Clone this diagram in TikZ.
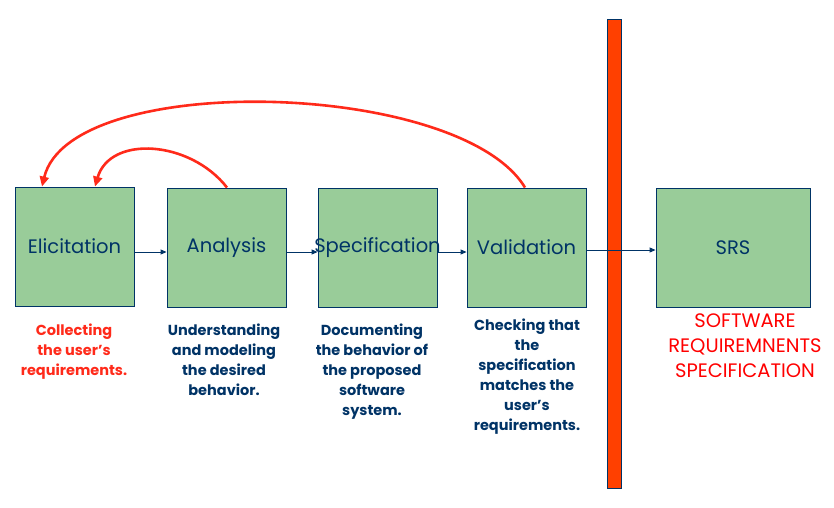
\documentclass[tikz,border=0pt]{standalone}
\usepackage{fontspec}
\setmainfont{Poppins}
\usetikzlibrary{arrows.meta}
\definecolor{navy}{HTML}{003366}
\definecolor{boxgreen}{HTML}{99CC99}
\definecolor{loopred}{HTML}{FF2A1A}
\definecolor{barred}{HTML}{FF4000}
\newcommand{\phase}[3]{node[stage,minimum width=#3] (#1) {\makebox[0pt]{#2}}}
\newcommand{\desc}[2]{node[note,anchor=north,#1]{#2}}

\begin{document}
\begin{tikzpicture}[x=1pt,y=-1pt,
 stage/.style={draw=navy,fill=boxgreen,line width=0.9pt,minimum height=119pt,inner xsep=0pt,text=navy,font=\fontsize{19.5}{22}\selectfont},
 note/.style={align=center,inner sep=0pt,text=navy,font=\bfseries\fontsize{14.5}{20}\selectfont},
 flow/.style={draw=navy,line width=0.9pt,-{Triangle[length=6pt,width=5pt]}},
 back/.style={draw=loopred,line width=2.6pt,-{Triangle[length=10pt,width=9pt]}}]
\useasboundingbox[fill=white] (0,0) rectangle (834,507);
% the barrier
\draw[navy,fill=barred,line width=0.9pt] (607,19) rectangle (621,488);
% the phases
\path (74.5,246.5) \phase{eli}{Elicitation}{119pt};
\path (226.5,247.5) \phase{ana}{Analysis}{119pt};
\path (377.5,247.5) \phase{spe}{Specification}{119pt};
\path (526.5,247.5) \phase{val}{Validation}{119pt};
\path (733,247.5) \phase{srs}{SRS}{154pt};
\foreach \a/\b in {eli/ana,ana/spe,spe/val}
 \draw[flow] (\a.east |- 0,252) -- (\b.west |- 0,252);
\draw[flow] (val.east |- 0,250) -- (srs.west |- 0,250);
% feedback
\draw[back] (val.north -| 525,0) .. controls (460,80) and (70,70) .. (eli.north -| 42,0);
\draw[back] (ana.north -| 227,0) .. controls (190,140) and (110,135) .. (eli.north -| 95,0);
% notes
\path (74,324) \desc{text=loopred}{Collecting\\the user's\\requirements.};
\path (224,324) \desc{}{Understanding\\and modeling\\the desired\\behavior.};
\path (372,324) \desc{}{Documenting\\the behavior of\\the proposed\\software\\system.};
\path (527,319) \desc{}{Checking that\\the\\specification\\matches the\\user's\\requirements.};
\path (745,314) node[anchor=north,align=center,inner sep=0pt,text=red,font=\fontsize{19.5}{25}\selectfont] (srsnote) {SOFTWARE\\REQUIREMNENTS\\SPECIFICATION};
\end{tikzpicture}
\end{document}
